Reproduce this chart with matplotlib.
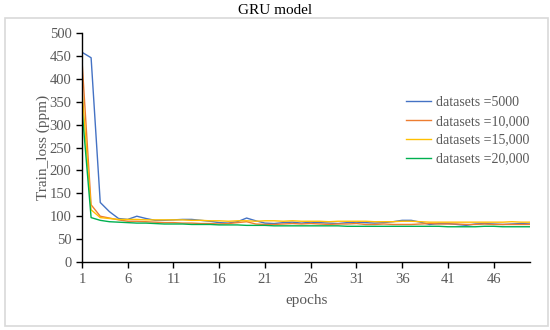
import matplotlib
matplotlib.use("Agg")
import matplotlib.pyplot as plt
import matplotlib.patches as patches
import numpy as np

plt.rcParams['font.family'] = ['Liberation Serif', 'DejaVu Serif']

# training loss per epoch
epochs = list(range(1, 51))
loss_5000 = [458, 446, 130, 110, 95, 93, 100, 95, 91, 91, 92, 93, 93, 91, 89, 86, 85, 88, 96, 90,
             85, 84, 86, 87, 85, 87, 86, 85, 84, 86, 87, 86, 85, 86, 88, 91, 91, 87, 82, 84,
             84, 82, 80, 83, 84, 83, 82, 83, 84, 83]
loss_10000 = [442, 125, 100, 96, 92, 89, 89, 88, 87, 86, 86, 85, 85, 84, 84, 83, 84, 86, 88, 83,
              82, 82, 83, 84, 83, 84, 83, 82, 83, 83, 84, 82, 82, 83, 82, 82, 82, 83, 84, 83,
              83, 83, 82, 82, 83, 82, 82, 82, 82, 82]
loss_15000 = [378, 114, 97, 95, 93, 93, 93, 92, 92, 92, 92, 92, 91, 91, 90, 90, 89, 90, 90, 89,
              90, 90, 89, 90, 89, 89, 89, 88, 89, 89, 89, 89, 88, 88, 88, 89, 89, 88, 87, 87,
              87, 87, 87, 87, 87, 87, 87, 88, 87, 87]
loss_20000 = [335, 97, 91, 88, 87, 86, 85, 85, 84, 83, 83, 83, 82, 82, 82, 81, 81, 81, 80, 80,
              80, 79, 79, 79, 79, 79, 79, 79, 79, 78, 78, 78, 78, 78, 78, 78, 78, 78, 78, 78,
              77, 77, 77, 77, 78, 78, 77, 77, 77, 77]
labels = ['datasets =5000', 'datasets =10,000', 'datasets =15,000', 'datasets =20,000']
colors = ['#4472C4', '#ED7D31', '#FFC000', '#00B050']

fig = plt.figure(figsize=(5.5, 3.3), dpi=100)
ax = fig.add_axes([0.149, 0.206, 0.815, 0.694])

# light grey frame round the chart area
fig.patches.append(patches.Rectangle((0.009, 0.012), 0.988, 0.933, transform=fig.transFigure,
                                     fill=False, edgecolor='#d9d9d9', linewidth=1.2))

for ys, lab, c in zip([loss_5000, loss_10000, loss_15000, loss_20000], labels, colors):
    ax.plot(epochs, ys, color=c, linewidth=1.0, label=lab)

ax.set_xlim(1, 50)
ax.set_ylim(0, 500)
ax.set_xticks(range(1, 50, 5))
ax.set_yticks(range(0, 501, 50))

for s in ['top', 'right']:
    ax.spines[s].set_visible(False)
for s in ['left', 'bottom']:
    ax.spines[s].set_color('black')
    ax.spines[s].set_linewidth(1.0)

ax.tick_params(direction='out', length=4, width=1.0, colors='black', labelcolor='#595959',
               labelsize=10.5)
ax.tick_params(axis='x', pad=4)

ax.set_xlabel('epochs', fontsize=11, color='#595959', labelpad=6)
ax.set_ylabel('Train_loss (ppm)', fontsize=11, color='#595959', labelpad=0)
fig.text(0.5, 0.968, 'GRU model', ha='center', va='center', fontsize=11, color='black')

leg = ax.legend(loc='upper left', bbox_to_anchor=(0.695, 0.78), frameon=False, fontsize=10,
                handlelength=1.8, labelspacing=0.42, handletextpad=0.35)
for t in leg.get_texts():
    t.set_color('#595959')

fig.savefig('out.png', dpi=100)
